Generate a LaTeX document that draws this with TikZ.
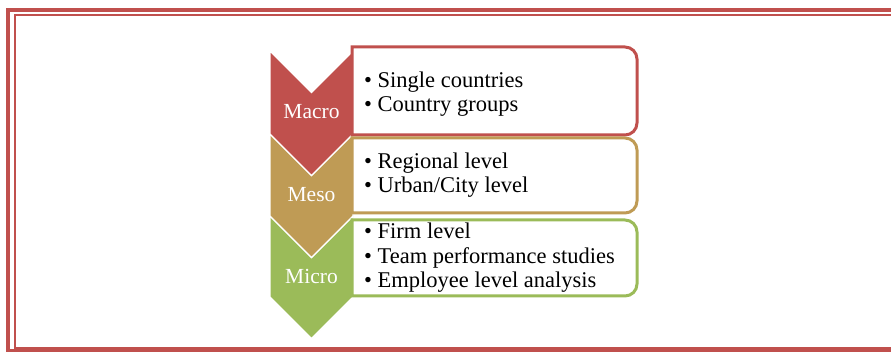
\documentclass[tikz,border=0pt]{standalone}
\usepackage{fontspec}
\setmainfont{Liberation Serif}
\definecolor{macrored}{HTML}{C0504D}
\definecolor{mesotan}{HTML}{BF9B55}
\definecolor{microgreen}{HTML}{9BBB59}
\begin{document}
\begin{tikzpicture}[x=1pt,y=-1pt,
    levelname/.style={text=white,font=\fontsize{21.5}{24}\selectfont,anchor=base,inner sep=0pt},
    item/.style={font=\fontsize{22.5}{24}\selectfont,anchor=base west,inner sep=0pt},
    listbox/.style={line width=3pt,fill=white}]
  \useasboundingbox (0,0) rectangle (891,352);
  % double frame, open to the right
  \draw[macrored,line width=3.5pt] (900,10) -- (8,10) -- (8,351) -- (900,351);
  \draw[macrored,line width=2pt] (900,15) -- (14.5,15) -- (14.5,348) -- (900,348);
  % chevrons, from the bottom up
  \foreach \col/\top/\bot in {microgreen/216/297, mesotan/134/216, macrored/51/134}
    \filldraw[fill=\col,draw=white,line width=1.2pt]
      (270,\top) -- (311.5,\top+41.5) -- (353,\top) -- (353,\bot)
      -- (311.5,\bot+41.5) -- (270,\bot) -- cycle;
  % list boxes
  \foreach \col/\top/\bot in {macrored/47/135, mesotan/138/213, microgreen/220/296}
    \draw[listbox,draw=\col] (352,\top) -- (625,\top)
      arc[start angle=-90,end angle=0,radius=12] -- (637,\bot-12)
      arc[start angle=0,end angle=90,radius=12] -- (352,\bot) -- cycle;
  % level names
  \node[levelname] (macro) at (311.5,119) {Macro};
  \node[levelname] (meso) at (311.5,202) {Meso};
  \node[levelname] (micro) at (311.5,284) {Micro};
  % items
  \node[item] (macro1) at (364,88) {\textbullet\ Single countries};
  \node[item] (macro2) at (364,112) {\textbullet\ Country groups};
  \node[item] (meso1) at (364,169) {\textbullet\ Regional level};
  \node[item] (meso2) at (364,193) {\textbullet\ Urban/City level};
  \node[item] (micro1) at (364,239) {\textbullet\ Firm level};
  \node[item] (micro2) at (364,264) {\textbullet\ Team performance studies};
  \node[item] (micro3) at (364,288) {\textbullet\ Employee level analysis};
\end{tikzpicture}
\end{document}
